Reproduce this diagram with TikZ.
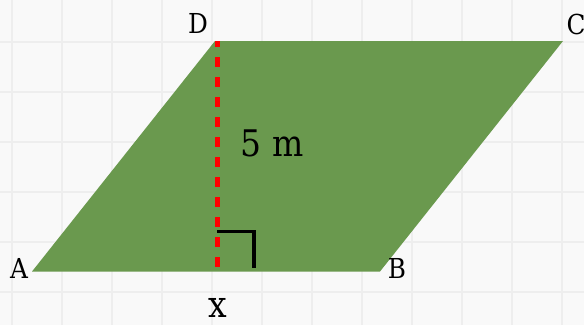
\documentclass[tikz,border=0pt]{standalone}
\usepackage{fontspec}
\setmainfont{DejaVu Serif Condensed}
\definecolor{bgcol}{HTML}{F9F9F9}
\definecolor{gridcol}{HTML}{EEEEEE}
\definecolor{shapegreen}{HTML}{6A994E}
\definecolor{dashred}{HTML}{FF0000}
\begin{document}
\begin{tikzpicture}[x=0.75pt,y=-0.75pt,
  vlabel/.style={anchor=base,inner sep=0pt,font=\fontsize{20.6pt}{24pt}\selectfont},
  biglabel/.style={anchor=base,inner sep=0pt,font=\fontsize{27.5pt}{32pt}\selectfont},
  gridline/.style={draw=gridcol,line width=1.5pt},
  heightline/.style={draw=dashred,line width=4.3pt,dash pattern=on 7.5pt off 7.5pt,dash phase=3pt},
  rightmark/.style={draw=black,line width=2.6pt}]
\fill[bgcol] (0,0) rectangle (584,325);
\useasboundingbox (0,0) rectangle (584,325);
\foreach \gx in {11.7,61.7,...,561.8} \draw[gridline] (\gx,0) -- (\gx,325);
\foreach \gy in {41.7,91.7,...,291.8} \draw[gridline] (0,\gy) -- (584,\gy);
\coordinate (A) at (32,271.5);
\coordinate (B) at (380,271.5);
\coordinate (C) at (563,41);
\coordinate (D) at (215,41);
\coordinate (Htop) at (217.5,41);
\coordinate (Hfoot) at (217.5,271.5);
\fill[shapegreen] (A) -- (B) -- (C) -- (D) -- cycle;
\draw[heightline] (Htop) -- (Hfoot);
\coordinate (R1) at (217,231.5);
\coordinate (R2) at (253.8,231.5);
\coordinate (R3) at (253.8,268);
\draw[rightmark] (R1) -- (R2) -- (R3);
\node[vlabel] (labD) at (198,33) {D};
\node[vlabel] (labC) at (576,34) {C};
\node[vlabel] (labA) at (19,278.3) {A};
\node[vlabel] (labB) at (397,278.3) {B};
\node[biglabel] (labx) at (217.5,317.7) {x};
\node[biglabel] (labh) at (272,156) {5 m};
\end{tikzpicture}
\end{document}
